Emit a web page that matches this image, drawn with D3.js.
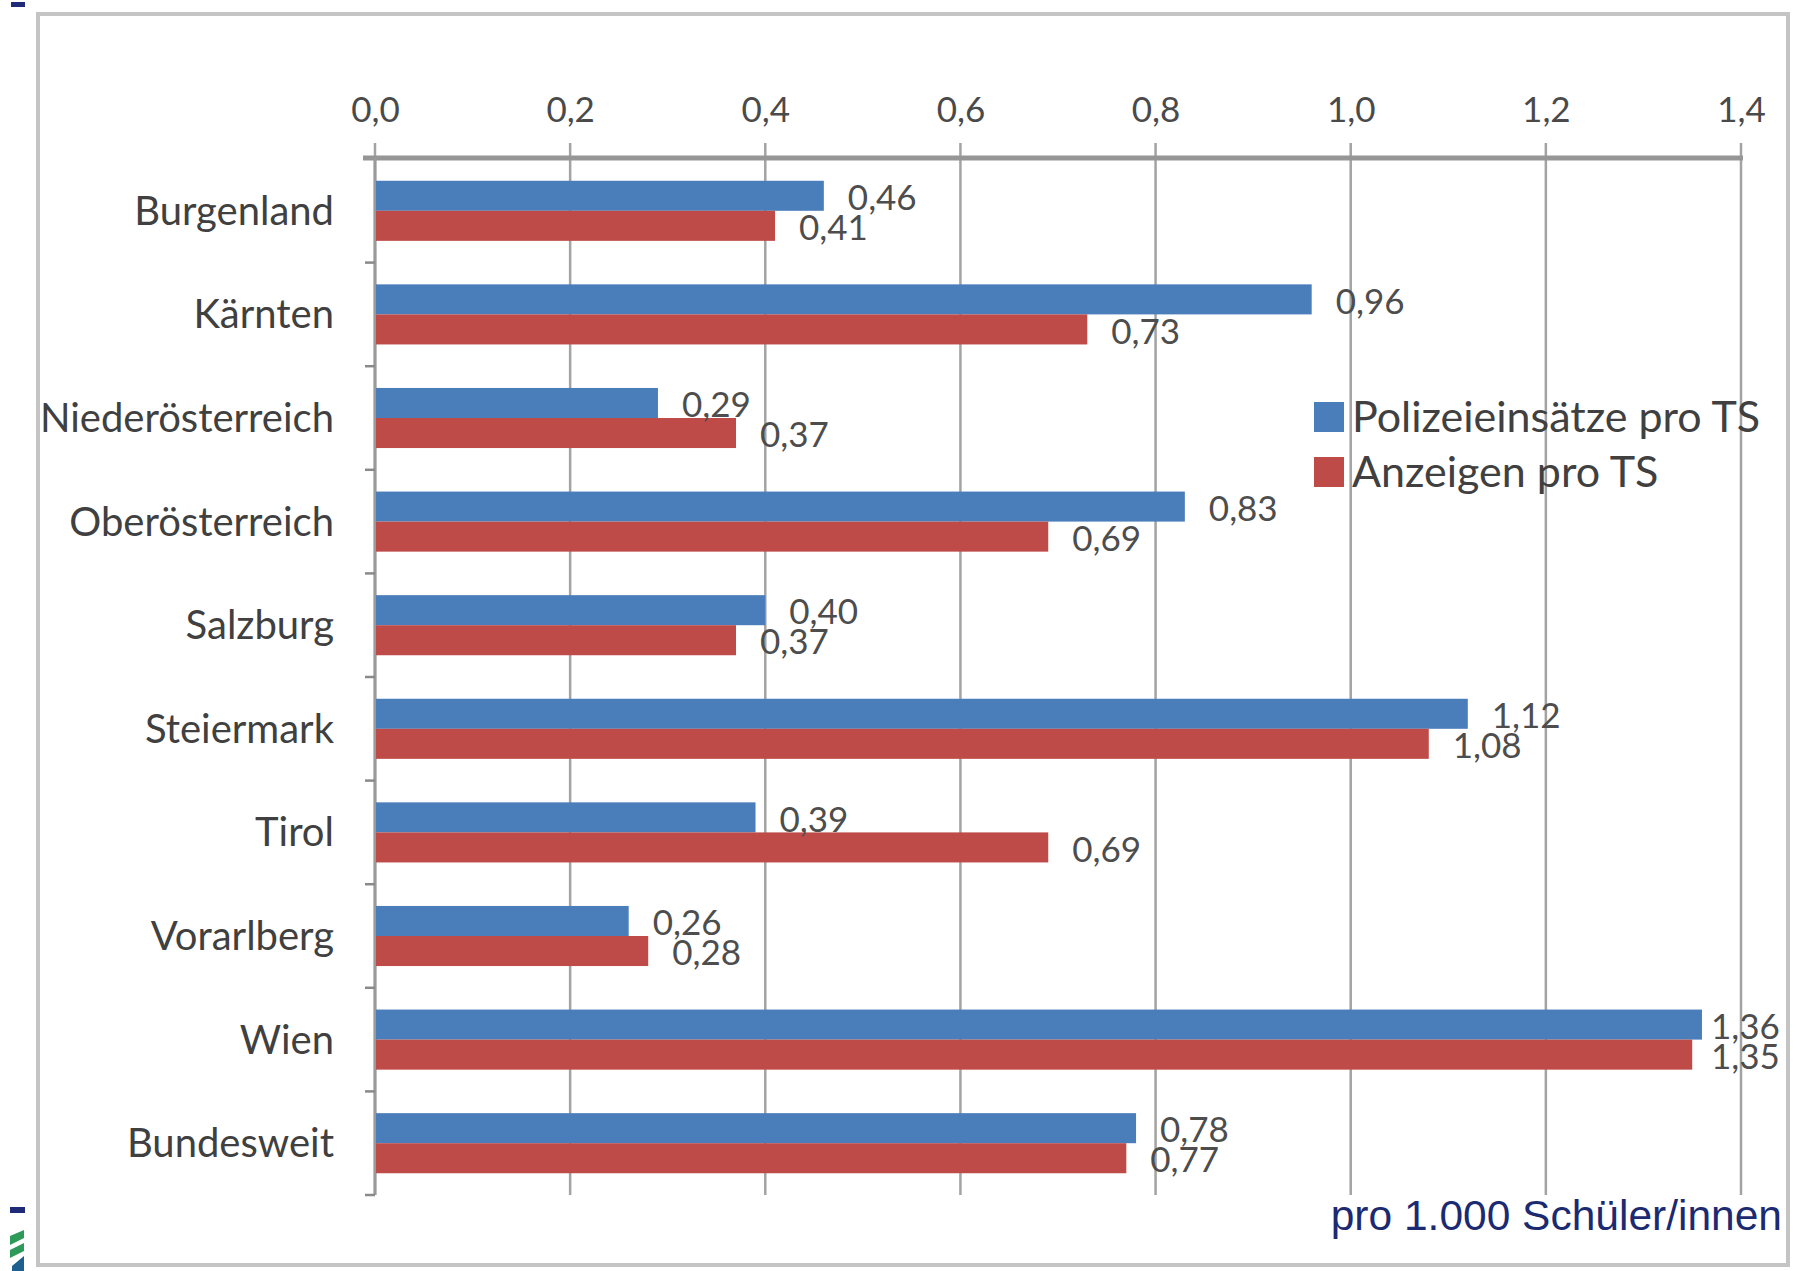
<!DOCTYPE html>
<html>
<head>
<meta charset="utf-8">
<script src="https://cdn.jsdelivr.net/npm/d3@7"></script>
<style>
  body { margin: 0; background: #fff; }
  svg { display: block; }
</style>
</head>
<body>
<div id="svg_element"></div>
<script>
// Data
var categories = ["Burgenland", "Kärnten", "Niederösterreich", "Oberösterreich", "Salzburg",
    "Steiermark", "Tirol", "Vorarlberg", "Wien", "Bundesweit"];
var polizei = [0.46, 0.96, 0.29, 0.83, 0.40, 1.12, 0.39, 0.26, 1.36, 0.78];
var anzeigen = [0.41, 0.73, 0.37, 0.69, 0.37, 1.08, 0.69, 0.28, 1.35, 0.77];
var seriesNames = ["Polizeieinsätze pro TS", "Anzeigen pro TS"];
var xTicks = [0, 0.2, 0.4, 0.6, 0.8, 1.0, 1.2, 1.4];
var footnote = "pro 1.000 Schüler/innen";

var W = 1798, H = 1271;
var plot = { left: 375, right: 1741, top: 158, bottom: 1195 };
var colors = ["#4a7ebb", "#be4b48"];
var labelFont = "Lato, 'Open Sans', sans-serif";

var svg = d3.select("#svg_element")
    .append("svg")
    .attr("width", W)
    .attr("height", H);

// German number format: comma as decimal mark
var de = d3.formatLocale({ decimal: ",", thousands: ".", grouping: [3], currency: ["", " €"] });
var fmt1 = de.format(".1f"),
    fmt2 = de.format(".2f");

// outer frame
svg.append("rect")
    .attr("x", 38).attr("y", 14)
    .attr("width", 1750).attr("height", 1251)
    .attr("fill", "#fff")
    .attr("stroke", "#c4c4c4")
    .attr("stroke-width", 4);

// little page decorations at the left edge
svg.append("rect").attr("x", 11).attr("y", 2).attr("width", 14).attr("height", 5).attr("fill", "#1f2a78");
svg.append("rect").attr("x", 10).attr("y", 1207).attr("width", 15).attr("height", 6).attr("fill", "#1f2a78");
svg.append("path").attr("d", "M10,1236 L24,1230 L24,1238 L10,1245 Z").attr("fill", "#2e9a5a");
svg.append("path").attr("d", "M10,1250 L24,1243 L24,1251 L10,1258 Z").attr("fill", "#2e9a5a");
svg.append("path").attr("d", "M12,1266 L24,1256 L24,1271 L12,1271 Z").attr("fill", "#1d5f8f");

// scales
var x = d3.scaleLinear()
    .domain([0, 1.4])
    .range([plot.left, plot.right]);

var y = d3.scaleBand()
    .domain(categories)
    .range([plot.top + 1, plot.bottom])
    .paddingInner(0.42)
    .paddingOuter(0.21);

var ySub = d3.scaleBand()
    .domain([0, 1])
    .range([0, y.bandwidth()]);

// vertical gridlines (with the little ticks above the axis)
svg.append("g")
    .selectAll("line")
    .data(xTicks)
    .join("line")
    .attr("x1", d => x(d)).attr("x2", d => x(d))
    .attr("y1", plot.top - 15).attr("y2", plot.bottom)
    .attr("stroke", "#a3a3a3")
    .attr("stroke-width", 2.5);

// top axis with tick labels
var xAxis = svg.append("g")
    .attr("transform", "translate(0," + plot.top + ")")
    .call(d3.axisTop(x).tickValues(xTicks).tickFormat(fmt1).tickSize(0).tickPadding(36));
xAxis.select(".domain").remove();
xAxis.selectAll("text")
    .style("font-family", labelFont)
    .style("font-size", "35px")
    .style("fill", "#4a4a4a");

svg.append("line")
    .attr("x1", plot.left - 12).attr("x2", plot.right + 2)
    .attr("y1", plot.top).attr("y2", plot.top)
    .attr("stroke", "#969696")
    .attr("stroke-width", 5);

// left axis line and category separator ticks
svg.append("line")
    .attr("x1", plot.left).attr("x2", plot.left)
    .attr("y1", plot.top).attr("y2", plot.bottom)
    .attr("stroke", "#9a9a9a")
    .attr("stroke-width", 3);

var sep = d3.range(1, categories.length + 1).map(i => plot.top + 1 + i * y.step());
svg.append("g")
    .selectAll("line")
    .data(sep)
    .join("line")
    .attr("x1", plot.left - 10).attr("x2", plot.left)
    .attr("y1", d => d).attr("y2", d => d)
    .attr("stroke", "#8a8a8a")
    .attr("stroke-width", 2.5);

// category labels
svg.append("g")
    .selectAll("text")
    .data(categories)
    .join("text")
    .attr("x", 334)
    .attr("y", d => y(d) + y.bandwidth() / 2)
    .attr("dy", "0.35em")
    .attr("text-anchor", "end")
    .style("font-family", labelFont)
    .style("font-size", "40px")
    .style("fill", "#404040")
    .text(d => d);

// bars
var rows = categories.map((c, i) => ({ cat: c, vals: [polizei[i], anzeigen[i]] }));

var groups = svg.append("g")
    .selectAll("g")
    .data(rows)
    .join("g")
    .attr("transform", d => "translate(0," + y(d.cat) + ")");

groups.selectAll("rect")
    .data(d => d.vals.map((v, s) => ({ v: v, s: s })))
    .join("rect")
    .attr("x", x(0) + 1)
    .attr("y", d => ySub(d.s))
    .attr("width", d => x(d.v) - x(0) - 1)
    .attr("height", ySub.bandwidth())
    .attr("fill", d => colors[d.s]);

// value labels, pulled back when they would run past the plot edge
groups.selectAll("text")
    .data(d => d.vals.map((v, s) => ({ v: v, s: s })))
    .join("text")
    .attr("x", d => Math.min(x(d.v) + 24, plot.right - 30))
    .attr("y", d => ySub(d.s) + ySub.bandwidth() / 2 + 2)
    .attr("dy", "0.35em")
    .style("font-family", labelFont)
    .style("font-size", "35px")
    .style("fill", "#4d4d4d")
    .text(d => fmt2(d.v));

// legend
var legend = svg.append("g")
    .attr("transform", "translate(1314,402)");

var li = legend.selectAll("g")
    .data(seriesNames)
    .join("g")
    .attr("transform", (d, i) => "translate(0," + i * 55 + ")");

li.append("rect")
    .attr("width", 30).attr("height", 30)
    .attr("fill", (d, i) => colors[i]);

li.append("text")
    .attr("x", 38).attr("y", 15)
    .attr("dy", "0.35em")
    .style("font-family", labelFont)
    .style("font-size", "43px")
    .style("fill", "#404040")
    .text(d => d);

// footnote
svg.append("text")
    .attr("x", 1782).attr("y", 1230)
    .attr("text-anchor", "end")
    .style("font-family", "'Liberation Sans', Arial, sans-serif")
    .style("font-size", "42.5px")
    .style("fill", "#1c2a72")
    .text(footnote);
</script>
</body>
</html>
